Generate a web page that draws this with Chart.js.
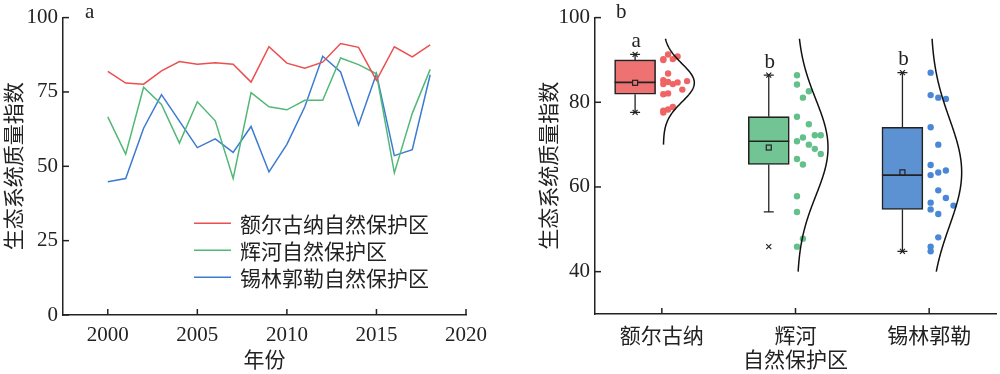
<!DOCTYPE html>
<html>
<head>
<meta charset="utf-8">
<script src="https://cdn.jsdelivr.net/npm/chart.js@4"></script>
<style>
  html, body { margin: 0; padding: 0; background: #fff; }
  #wrap { position: relative; width: 1000px; height: 374px; }
  #trendChart { position: absolute; left: 0; top: 0; }
  #boxChart { position: absolute; left: 535px; top: 0; }
</style>
</head>
<body>
<div id="wrap">
  <canvas id="trendChart" width="535" height="374"></canvas>
  <canvas id="boxChart" width="465" height="374"></canvas>
</div>
<script>
// ---- data ----
const years = [2000, 2001, 2002, 2003, 2004, 2005, 2006, 2007, 2008, 2009,
               2010, 2011, 2012, 2013, 2014, 2015, 2016, 2017, 2018];
const reserves = ['额尔古纳', '辉河', '锡林郭勒'];
const reserveSuffix = '自然保护区';
const ergunaEQI = [81.9, 78.0, 77.6, 82.1, 85.2, 84.3, 84.8, 84.3, 78.3, 90.2,
                   84.7, 83.0, 85.0, 91.3, 90.0, 78.9, 90.2, 86.8, 90.8];
const huiheEQI  = [66.6, 54.1, 76.6, 70.8, 57.8, 71.7, 65.3, 45.9, 74.8, 70.0,
                   69.0, 72.2, 72.2, 86.4, 84.2, 81.1, 47.8, 67.8, 82.6];
const xilinEQI  = [44.8, 45.9, 62.8, 74.1, 65.2, 56.3, 59.2, 54.7, 63.4, 48.1,
                   57.4, 70.0, 87.0, 81.7, 63.9, 81.1, 53.6, 55.6, 80.8];
const sigLetters = ['a', 'b', 'b'];
const curveRange = [[70, 95], [40, 95], [40, 95]];

const eqiSeries = [ergunaEQI, huiheEQI, xilinEQI];

// ---- styles ----
const lineColors = ['#ec4f4f', '#52b877', '#3c7bd0'];
const boxColors  = ['#ef7272', '#72c495', '#5d92d2'];
const dotColors  = ['#ef6464', '#62c08b', '#4a88d6'];
const dotBinWidth = [2.5, 5, 5];
const ink = '#222';
const serif = "'Liberation Serif', 'Times New Roman', serif";
const cjk = "'Noto Sans CJK SC', sans-serif";
const PX_PER_CAT = 135;
const BOX_SHIFT = -0.2;

Chart.defaults.font.family = serif;
Chart.defaults.color = ink;

function boxStats(vals) {
    const s = [...vals].sort((a, b) => a - b), n = s.length;
    const q = p => {
        const pos = (n + 1) * p - 1, lo = Math.floor(pos), f = pos - lo;
        return s[lo] + ((s[lo + 1] ?? s[lo]) - s[lo]) * f;
    };
    const q1 = q(0.25), med = q(0.5), q3 = q(0.75), iqr = q3 - q1;
    const lowW = s.find(v => v >= q1 - 1.5 * iqr);
    const highW = [...s].reverse().find(v => v <= q3 + 1.5 * iqr);
    const mean = s.reduce((a, b) => a + b, 0) / n;
    const sd = Math.sqrt(s.reduce((a, b) => a + (b - mean) ** 2, 0) / (n - 1));
    return { q1, med, q3, lowW, highW, mean, sd, min: s[0], max: s[n - 1] };
}
const stats = eqiSeries.map(boxStats);

// dots sit in value bins, side by side in data order
function swarm(vals, binW) {
    const counts = {};
    const cols = vals.map(v => {
        const b = Math.floor((v - 0.15) / binW);
        counts[b] = counts[b] || 0;
        return counts[b]++;
    });
    const maxCols = Math.max(...Object.values(counts));
    const step = Math.min(7.7, 24 / Math.max(maxCols - 1, 1));
    return cols.map(c => (1.5 + c * step) / PX_PER_CAT);
}

// inward tick marks on both axes
const inwardTicks = {
    id: 'inwardTicks',
    afterDraw(chart) {
        const { ctx, chartArea: { left, bottom }, scales: { x, y } } = chart;
        ctx.save();
        ctx.strokeStyle = ink;
        ctx.lineWidth = 1.5;
        y.ticks.forEach(t => {
            const py = y.getPixelForValue(t.value);
            ctx.beginPath(); ctx.moveTo(left, py); ctx.lineTo(left + 6, py); ctx.stroke();
        });
        x.ticks.forEach(t => {
            const px = x.getPixelForValue(t.value);
            ctx.beginPath(); ctx.moveTo(px, bottom); ctx.lineTo(px, bottom - 6); ctx.stroke();
        });
        ctx.restore();
    }
};

function panelLabel(text, dx) {
    return {
        id: 'panelLabel',
        afterDraw(chart) {
            const { ctx, chartArea: { left } } = chart;
            ctx.save();
            ctx.font = '21px ' + serif;
            ctx.fillStyle = ink;
            ctx.textBaseline = 'alphabetic';
            ctx.fillText(text, left + dx, 18);
            ctx.restore();
        }
    };
}

const lineLegend = {
    id: 'lineLegend',
    afterDraw(chart) {
        const { ctx, chartArea: { left, top } } = chart;
        ctx.save();
        ctx.font = '21px ' + cjk;
        ctx.textBaseline = 'middle';
        chart.data.datasets.forEach((ds, i) => {
            const yy = top + 205.7 + i * 27;
            ctx.strokeStyle = ds.borderColor;
            ctx.lineWidth = 1.5;
            ctx.beginPath(); ctx.moveTo(left + 131, yy); ctx.lineTo(left + 168, yy); ctx.stroke();
            ctx.fillStyle = ink;
            ctx.fillText(ds.label, left + 177, yy + 1);
        });
        ctx.restore();
    }
};

new Chart(document.getElementById('trendChart'), {
    type: 'scatter',
    data: {
        datasets: eqiSeries.map((vals, i) => ({
            label: reserves[i] + reserveSuffix,
            data: years.map((yr, k) => ({ x: yr, y: vals[k] })),
            showLine: true,
            borderColor: lineColors[i],
            borderWidth: 1.5,
            pointRadius: 0,
            fill: false
        }))
    },
    options: {
        responsive: false,
        animation: false,
        devicePixelRatio: 1,
        layout: { padding: { top: 15, right: 69, left: 0, bottom: 0 } },
        plugins: { legend: { display: false }, tooltip: { enabled: false } },
        scales: {
            x: {
                type: 'linear', min: 1997.5, max: 2020,
                grid: { display: false, drawTicks: false },
                border: { color: ink, width: 1.5 },
                ticks: { stepSize: 5, includeBounds: false, padding: 8, maxRotation: 0,
                         font: { size: 21 }, callback: v => String(v) },
                title: { display: true, text: '年份', font: { family: cjk, size: 21 },
                         padding: { top: 0, bottom: 2 } },
                afterFit: s => { s.height = 59; }
            },
            y: {
                min: 0, max: 100,
                grid: { display: false, drawTicks: false },
                border: { color: ink, width: 1.5 },
                ticks: { stepSize: 25, includeBounds: false, padding: 5, font: { size: 21 } },
                title: { display: true, text: '生态系统质量指数', font: { family: cjk, size: 21 },
                         padding: 0 },
                afterFit: s => { s.width = 63; }
            }
        }
    },
    plugins: [inwardTicks, panelLabel('a', 22), lineLegend]
});

// whiskers, medians, means, min/max marks, letters and fitted normal curves
const boxDecor = {
    id: 'boxDecor',
    beforeDatasetsDraw(chart) {
        const { ctx, scales: { x, y } } = chart;
        ctx.save();
        ctx.strokeStyle = ink;
        ctx.lineWidth = 1.3;
        stats.forEach((st, i) => {
            const cx = x.getPixelForValue(i + BOX_SHIFT);
            const yLo = y.getPixelForValue(st.lowW), yHi = y.getPixelForValue(st.highW);
            ctx.beginPath();
            ctx.moveTo(cx, yLo); ctx.lineTo(cx, y.getPixelForValue(st.q1));
            ctx.moveTo(cx, yHi); ctx.lineTo(cx, y.getPixelForValue(st.q3));
            ctx.moveTo(cx - 5, yLo); ctx.lineTo(cx + 5, yLo);
            ctx.moveTo(cx - 5, yHi); ctx.lineTo(cx + 5, yHi);
            ctx.stroke();
        });
        ctx.restore();
    },
    afterDatasetsDraw(chart) {
        const { ctx, scales: { x, y } } = chart;
        ctx.save();
        stats.forEach((st, i) => {
            const cx = x.getPixelForValue(i + BOX_SHIFT);
            // median
            const ym = y.getPixelForValue(st.med);
            ctx.strokeStyle = ink;
            ctx.lineWidth = 1.6;
            ctx.beginPath(); ctx.moveTo(cx - 20.5, ym); ctx.lineTo(cx + 20.5, ym); ctx.stroke();
            // mean
            const ymean = y.getPixelForValue(st.mean);
            ctx.lineWidth = 1.2;
            ctx.fillStyle = boxColors[i];
            ctx.fillRect(cx - 2.5, ymean - 2.5, 5, 5);
            ctx.strokeRect(cx - 2.5, ymean - 2.5, 5, 5);
            // min / max crosses
            [st.min, st.max].forEach(v => {
                const py = y.getPixelForValue(v);
                ctx.beginPath();
                ctx.moveTo(cx - 2.5, py - 2.5); ctx.lineTo(cx + 2.5, py + 2.5);
                ctx.moveTo(cx + 2.5, py - 2.5); ctx.lineTo(cx - 2.5, py + 2.5);
                ctx.stroke();
            });
            // significance letter
            ctx.font = '21px ' + serif;
            ctx.fillStyle = ink;
            ctx.textAlign = 'center';
            ctx.textBaseline = 'alphabetic';
            ctx.fillText(sigLetters[i], cx + 1, y.getPixelForValue(st.highW) - 7.5);
            // normal curve
            const base = x.getPixelForValue(i) + 1.5;
            const [lo, hi] = curveRange[i];
            ctx.strokeStyle = '#111';
            ctx.lineWidth = 1.5;
            ctx.beginPath();
            for (let v = lo; v <= hi + 1e-6; v += 0.25) {
                const z = (v - st.mean) / st.sd;
                const px = base + 31 * Math.exp(-0.5 * z * z);
                const py = y.getPixelForValue(v);
                if (v === lo) ctx.moveTo(px, py); else ctx.lineTo(px, py);
            }
            ctx.stroke();
        });
        ctx.restore();
    }
};

new Chart(document.getElementById('boxChart'), {
    type: 'scatter',
    data: {
        datasets: [
            {
                type: 'bar',
                data: stats.map((st, i) => ({ x: i + BOX_SHIFT, y: [st.q1, st.q3] })),
                backgroundColor: boxColors,
                borderColor: ink,
                borderWidth: 1.6,
                borderSkipped: false,
                barThickness: 41,
                grouped: false
            },
            ...eqiSeries.map((vals, i) => {
                const offs = swarm(vals, dotBinWidth[i]);
                return {
                    data: vals.map((v, k) => ({ x: i + offs[k], y: v })),
                    backgroundColor: dotColors[i],
                    borderWidth: 0,
                    pointRadius: 3.2
                };
            })
        ]
    },
    options: {
        responsive: false,
        animation: false,
        devicePixelRatio: 1,
        layout: { padding: { top: 15, right: 0, left: 0, bottom: 0 } },
        plugins: { legend: { display: false }, tooltip: { enabled: false } },
        scales: {
            x: {
                type: 'linear', min: -0.5, max: 2.5, offset: false,
                grid: { display: false, drawTicks: false },
                border: { color: ink, width: 1.5 },
                afterBuildTicks: s => { s.ticks = reserves.map((_, i) => ({ value: i })); },
                ticks: { padding: 8, maxRotation: 0, autoSkip: false,
                         font: { family: cjk, size: 21 }, callback: v => reserves[v] ?? '' },
                title: { display: true, text: reserveSuffix, font: { family: cjk, size: 21 },
                         padding: { top: 0, bottom: 2 } },
                afterFit: s => { s.height = 60; }
            },
            y: {
                min: 30, max: 100,
                grid: { display: false, drawTicks: false },
                border: { color: ink, width: 1.5 },
                ticks: { stepSize: 20, includeBounds: false, padding: 5, font: { size: 21 } },
                title: { display: true, text: '生态系统质量指数', font: { family: cjk, size: 21 },
                         padding: 0 },
                afterFit: s => { s.width = 60; }
            }
        }
    },
    plugins: [inwardTicks, boxDecor, panelLabel('b', 21)]
});
</script>
</body>
</html>
